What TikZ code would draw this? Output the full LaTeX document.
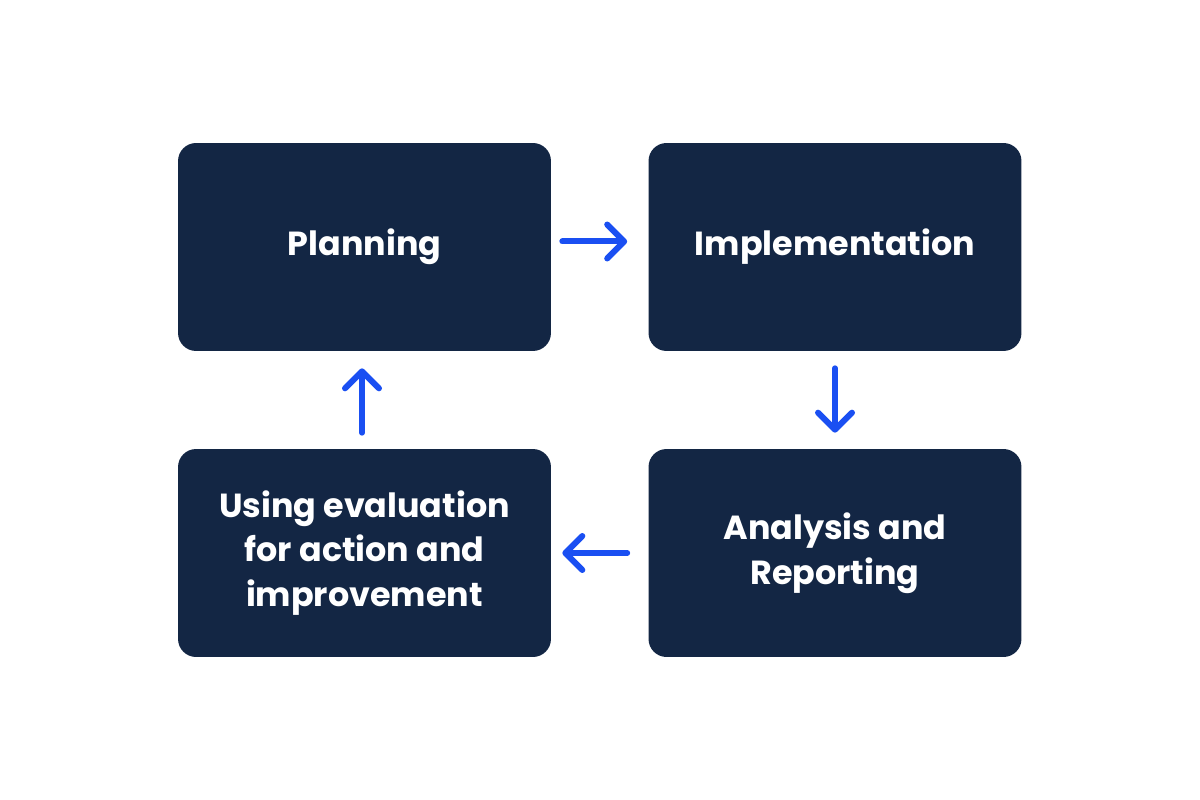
\documentclass[tikz,border=0pt]{standalone}
\usepackage{fontspec}
\setmainfont{Poppins}
\usetikzlibrary{arrows.meta}
\definecolor{navy}{HTML}{132644}
\definecolor{flowblue}{HTML}{1A4FF2}
\tikzset{
  box/.style={fill=navy, rounded corners=0.36cm, minimum width=7.46cm, minimum height=4.16cm,
    inner sep=0pt, text=white, align=center, font=\fontsize{19}{25.5}\selectfont\bfseries},
  flow/.style={draw=flowblue, line width=0.12cm, line cap=round,
    -{Straight Barb[round, length=0.34cm, width=0.68cm]}}
}
\begin{document}
\begin{tikzpicture}[x=0.02cm,y=-0.02cm]
\useasboundingbox (0,0) rectangle (1200,800);

\node[box] (plan) at (364.5,247) {Planning};
\node[box] (impl) at (835,247) {Implementation};
\node[box] (anal) at (835,553) {Analysis and\\Reporting};
\node[box] (use) at (364.5,553) {Using evaluation\\for action and\\improvement};

\draw[flow, shorten <=0.22cm, shorten >=0.42cm] ([yshift=0.11cm]plan.east) -- ([yshift=0.11cm]impl.west);
\draw[flow, shorten <=0.34cm, shorten >=0.32cm] (impl.south) -- (anal.north);
\draw[flow, shorten <=0.42cm, shorten >=0.22cm] (anal.west) -- (use.east);
\draw[flow, shorten <=0.32cm, shorten >=0.34cm] ([xshift=-0.05cm]use.north) -- ([xshift=-0.05cm]plan.south);
\end{tikzpicture}
\end{document}
